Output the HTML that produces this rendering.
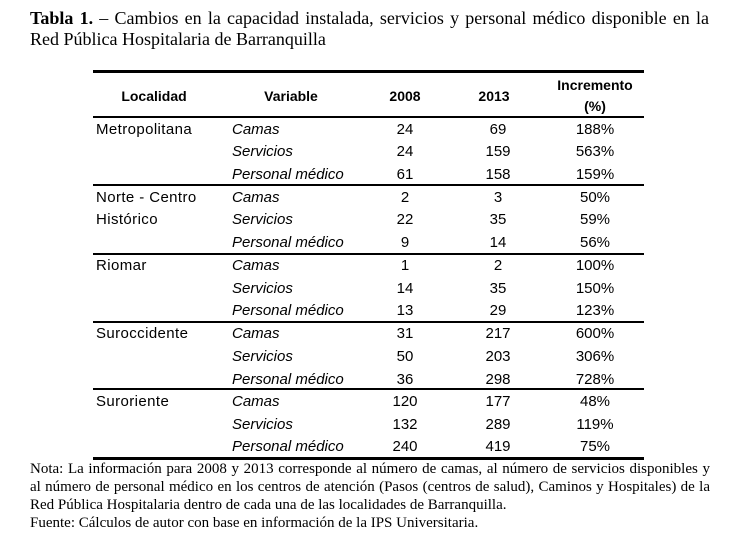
<!DOCTYPE html>
<html>
<head>
<meta charset="utf-8">
<style>
  html,body{margin:0;padding:0;background:#fff;}
  body{width:742px;height:558px;position:relative;overflow:hidden;color:#000;}
  .serif{font-family:"Liberation Serif","Times New Roman",serif;}
  .sans{font-family:"Liberation Sans",Arial,sans-serif;}
  .tline{position:absolute;left:30px;width:679px;font-size:18px;line-height:21px;white-space:nowrap;}
  .just{text-align:justify;text-align-last:justify;}
  .rule{position:absolute;left:93px;width:551px;background:#000;}
  .row{position:absolute;left:0;width:742px;height:22.73px;line-height:22.73px;font-size:15px;}
  .row span{position:absolute;top:0;white-space:nowrap;}
  .loc{left:96px;letter-spacing:0.4px;}
  .var{left:232px;font-style:italic;}
  .c1{left:365px;width:80px;text-align:center;}
  .c2{left:458px;width:80px;text-align:center;}
  .c3{left:555px;width:80px;text-align:center;}
  .hd{position:absolute;font-size:14px;font-weight:bold;white-space:nowrap;text-align:center;line-height:20px;}
  .fn{position:absolute;left:30px;width:680px;font-size:15px;line-height:18px;}
</style>
</head>
<body>
<div class="tline serif just" style="top:8px;"><b>Tabla 1.</b> – Cambios en la capacidad instalada, servicios y personal médico disponible en la</div>
<div class="tline serif" style="top:29px;">Red Pública Hospitalaria de Barranquilla</div>

<div class="rule" style="top:70px;height:3px;"></div>
<div class="rule" style="top:116px;height:2px;"></div>
<div class="rule" style="top:184px;height:2px;"></div>
<div class="rule" style="top:253px;height:2px;"></div>
<div class="rule" style="top:321px;height:2px;"></div>
<div class="rule" style="top:388px;height:2px;"></div>
<div class="rule" style="top:457px;height:3px;"></div>

<div class="sans">
<div class="hd" style="left:104px;width:100px;top:86px;">Localidad</div>
<div class="hd" style="left:241px;width:100px;top:86px;">Variable</div>
<div class="hd" style="left:365px;width:80px;top:86px;">2008</div>
<div class="hd" style="left:454px;width:80px;top:86px;">2013</div>
<div class="hd" style="left:545px;width:100px;top:75px;">Incremento</div>
<div class="hd" style="left:545px;width:100px;top:96px;">(%)</div>

<div class="row" style="top:118.5px;"><span class="loc">Metropolitana</span><span class="var">Camas</span><span class="c1">24</span><span class="c2">69</span><span class="c3">188%</span></div>
<div class="row" style="top:141.2px;"><span class="var">Servicios</span><span class="c1">24</span><span class="c2">159</span><span class="c3">563%</span></div>
<div class="row" style="top:163.9px;"><span class="var">Personal médico</span><span class="c1">61</span><span class="c2">158</span><span class="c3">159%</span></div>

<div class="row" style="top:186.7px;"><span class="loc">Norte - Centro</span><span class="var">Camas</span><span class="c1">2</span><span class="c2">3</span><span class="c3">50%</span></div>
<div class="row" style="top:209.4px;"><span class="loc">Histórico</span><span class="var">Servicios</span><span class="c1">22</span><span class="c2">35</span><span class="c3">59%</span></div>
<div class="row" style="top:232.1px;"><span class="var">Personal médico</span><span class="c1">9</span><span class="c2">14</span><span class="c3">56%</span></div>

<div class="row" style="top:254.9px;"><span class="loc">Riomar</span><span class="var">Camas</span><span class="c1">1</span><span class="c2">2</span><span class="c3">100%</span></div>
<div class="row" style="top:277.6px;"><span class="var">Servicios</span><span class="c1">14</span><span class="c2">35</span><span class="c3">150%</span></div>
<div class="row" style="top:300.3px;"><span class="var">Personal médico</span><span class="c1">13</span><span class="c2">29</span><span class="c3">123%</span></div>

<div class="row" style="top:323.1px;"><span class="loc">Suroccidente</span><span class="var">Camas</span><span class="c1">31</span><span class="c2">217</span><span class="c3">600%</span></div>
<div class="row" style="top:345.8px;"><span class="var">Servicios</span><span class="c1">50</span><span class="c2">203</span><span class="c3">306%</span></div>
<div class="row" style="top:368.5px;"><span class="var">Personal médico</span><span class="c1">36</span><span class="c2">298</span><span class="c3">728%</span></div>

<div class="row" style="top:391.3px;"><span class="loc">Suroriente</span><span class="var">Camas</span><span class="c1">120</span><span class="c2">177</span><span class="c3">48%</span></div>
<div class="row" style="top:414px;"><span class="var">Servicios</span><span class="c1">132</span><span class="c2">289</span><span class="c3">119%</span></div>
<div class="row" style="top:436.2px;"><span class="var">Personal médico</span><span class="c1">240</span><span class="c2">419</span><span class="c3">75%</span></div>
</div>

<div class="fn serif just" style="top:460px;white-space:nowrap;">Nota: La información para 2008 y 2013 corresponde al número de camas, al número de servicios disponibles y</div>
<div class="fn serif just" style="top:478px;white-space:nowrap;">al número de personal médico en los centros de atención (Pasos (centros de salud), Caminos y Hospitales) de la</div>
<div class="fn serif" style="top:496px;white-space:nowrap;">Red Pública Hospitalaria dentro de cada una de las localidades de Barranquilla.</div>
<div class="fn serif" style="top:514px;white-space:nowrap;">Fuente: Cálculos de autor con base en información de la IPS Universitaria.</div>
</body>
</html>
